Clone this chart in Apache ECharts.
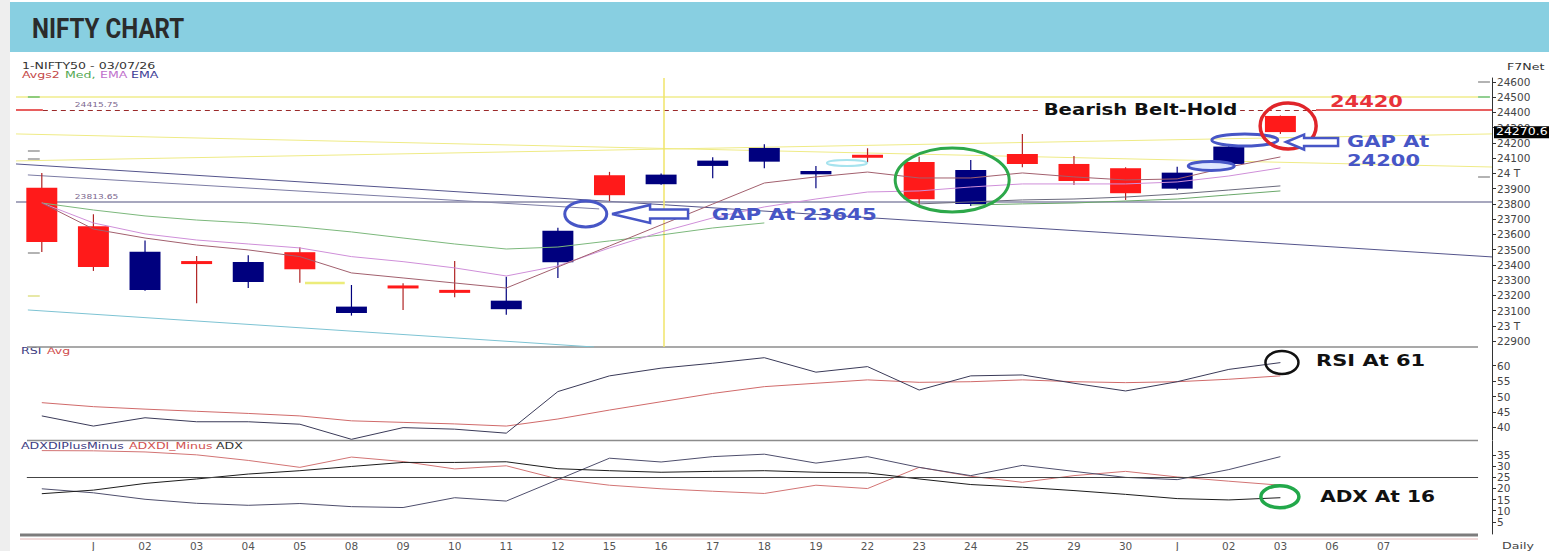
<!DOCTYPE html>
<html><head><meta charset="utf-8">
<script src="https://cdn.jsdelivr.net/npm/echarts@6/dist/echarts.min.js"></script>
<style>html,body{margin:0;padding:0;background:#fff}#c{width:1549px;height:551px}</style>
</head><body><div id="c"></div>
<script>
// ---------- data ----------
const dateLabels = ['', 'J','02','03','04','05','08','09','10','11','12','15','16','17','18','19','22','23','24','25','29','30','J','02','03','06','07'];
const candleOpen  = [23906,23653,23235,23420,23288,23483,23084,23264,23235,23109,23417,23988,23929,24049,24077,23994,24115,24075,23800,24128,24062,24034,23900,24062,24377];
const candleClose = [23550,23386,23486,23410,23419,23371,23126,23246,23217,23165,23624,23857,23992,24084,24167,24016,24110,23830,24023,24062,23950,23870,24005,24176,24271];
const candleLow   = [23485,23360,23230,23148,23248,23283,23067,23104,23187,23073,23314,23819,23925,23968,24034,23903,24073,23786,23786,24040,23924,23826,23891,24055,24259];
const candleHigh  = [24003,23732,23559,23458,23463,23515,23268,23279,23425,23322,23644,24010,24000,24106,24191,24049,24165,24110,24088,24259,24114,24040,24044,24191,24380];
const avgFast = [23806,23635,23576,23530,23498,23454,23347,23314,23281,23248,23386,23524,23662,23799,23937,23977,24009,23970,23970,24003,23977,23957,23964,24042,24108];
const avgEma  = [23806,23675,23603,23563,23537,23511,23454,23421,23380,23327,23393,23511,23616,23708,23780,23832,23878,23885,23911,23931,23931,23931,23944,23983,24036];
const medAvg  = [23806,23760,23721,23694,23675,23649,23616,23576,23537,23504,23517,23557,23596,23642,23675];
const medRightGray  = [23800,23813,23826,23832,23845,23865,23891,23918];   // idx 17..24
const medRightGreen = [23793,23800,23806,23819,23832,23859,23885];         // idx 18..24
const rsiLine = [43.7,40.4,43.1,41.8,41.8,41.0,36.1,39.9,39.4,38.1,51.6,56.7,59.2,60.8,62.6,57.9,59.7,52.1,56.7,57.0,54.3,51.8,54.8,58.8,61.0];
const rsiAvg  = [48.0,46.7,45.9,45.2,44.5,43.7,42.1,41.6,41.1,40.4,42.7,45.6,48.3,51.0,53.2,54.3,55.4,54.6,54.8,55.4,54.8,54.5,54.8,55.6,56.7];
const diPlus  = [19.8,18.0,15.1,13.3,12.4,13.2,11.8,11.4,15.8,14.3,23.9,33.5,31.8,34.2,35.3,31.3,34.2,29.4,25.7,30.3,27.6,24.9,23.9,28.4,34.2];
const diMinus = [36.9,36.8,36.3,35.0,32.5,29.4,34.0,32.0,28.7,30.1,24.2,21.4,19.8,18.7,17.7,21.4,19.9,29.4,25.4,22.7,25.7,27.6,25.1,23.2,21.4];
const adxLine = [17.6,19.2,22.2,24.2,26.4,27.9,29.8,31.6,31.6,31.9,28.8,27.9,27.2,27.6,27.9,27.2,26.9,24.2,21.7,20.5,19.0,17.3,15.4,14.8,15.8];
const trendNavy1 = [[-0.5,24062],[28.1,23452]];
const trendNavy2 = [[-0.27,23990],[10.8,23767]];
const trendYellowA = [[-0.5,24259],[28.1,24042]];
const trendYellowB = [[-0.5,24082],[28.1,24259]];
const trendCyan = [[-0.27,23104],[10.7,22861]];
const shortYellow = [[5.1,23281],[5.87,23281]];
const levelTop = 24500, levelRes = 24415.75, levelSup = 23813.65, lastClose = 24270.6;
const priceTicks = [22900,23000,23100,23200,23300,23400,23500,23600,23700,23800,23900,24000,24100,24200,24300,24400,24500,24600];
const rsiTicks = [40,45,50,55,60];
const adxTicks = [5,10,15,20,25,30,35];
const xTickIdx = [1,2,3,4,5,6,7,8,9,10,11,12,13,14,15,16,17,18,19,20,21,22,23,24,25,26];

// ---------- helpers ----------
const X_MIN = -0.5, X_MAX = 28.1;
const FONT = '"DejaVu Sans", Verdana, sans-serif';
const pairs = (arr, start) => arr.map((v, i) => [i + (start || 0), v]);
const BLUE = '#4756c6';

function candleItem(params, api) {
  const x = api.value(0), o = api.value(1), c = api.value(2), l = api.value(3), h = api.value(4);
  const po = api.coord([x, o]), pc = api.coord([x, c]), pl = api.coord([x, l]), ph = api.coord([x, h]);
  const w = api.size([1, 0])[0] * 0.6;
  const up = c >= o;
  const fill = up ? '#00007e' : '#ff1a1a';
  const wick = up ? '#00007e' : '#b02424';
  let top = Math.min(po[1], pc[1]), bot = Math.max(po[1], pc[1]);
  if (bot - top < 3) { const m = (top + bot) / 2; top = m - 1.5; bot = m + 1.5; }
  return { type: 'group', children: [
    { type: 'line', shape: { x1: po[0], y1: ph[1], x2: po[0], y2: pl[1] }, style: { stroke: wick, lineWidth: 1.2 } },
    { type: 'rect', shape: { x: po[0] - w / 2, y: top, width: w, height: bot - top }, style: { fill: fill } }
  ]};
}

function noteShape(n, p) {
  if (n.kind === 'ellipse') {
    return { type: 'ellipse', shape: { cx: p[0], cy: p[1], rx: n.rx, ry: n.ry }, style: { fill: n.fill || 'none', stroke: n.color, lineWidth: n.lw } };
  }
  if (n.kind === 'arrow') {
    const x0 = p[0], y0 = p[1], L = n.len, hl = n.head, hh = n.hh / 2, sh = n.sh / 2;
    return { type: 'polygon', shape: { points: [[x0, y0], [x0 + hl, y0 - hh], [x0 + hl, y0 - sh], [x0 + L, y0 - sh], [x0 + L, y0 + sh], [x0 + hl, y0 + sh], [x0 + hl, y0 + hh]] },
      style: { fill: '#fff', stroke: n.color, lineWidth: n.lw } };
  }
  if (n.kind === 'text') {
    const st = { text: n.text, fill: n.color, font: n.font, align: 'left', verticalAlign: 'middle' };
    if (n.bg) { st.backgroundColor = n.bg; st.padding = n.pad; }
    return { type: 'text', x: p[0] + (n.dx || 0), y: p[1] + (n.dy || 0), scaleX: n.sx || 1, style: st };
  }
  if (n.kind === 'box') {
    return { type: 'group', children: [
      { type: 'rect', shape: { x: p[0] + 2, y: p[1] - 6, width: 60, height: 12 }, style: { fill: '#000' } },
      { type: 'text', x: p[0] + 4, y: p[1], scaleX: 1.25, style: { text: n.text, fill: '#fff', font: '10px ' + FONT, align: 'left', verticalAlign: 'middle' } }
    ]};
  }
  return null;
}
function noteSeries(notes, gi) {
  return { type: 'custom', xAxisIndex: gi, yAxisIndex: gi, clip: false, silent: true, z: 20,
    data: notes.map(n => [n.x, n.y]),
    renderItem: (params, api) => { const n = notes[params.dataIndex]; return noteShape(n, api.coord([n.x, n.y])); } };
}
const BOLD = 'bold 15px ' + FONT;
const mainNotes = [
  { kind: 'ellipse', x: 15.6, y: 24069, rx: 20, ry: 3, color: '#a6e3ee', lw: 2 },
  { kind: 'ellipse', x: 17.64, y: 23957, rx: 57, ry: 32, color: '#2da84a', lw: 3 },
  { kind: 'ellipse', x: 10.54, y: 23734, rx: 21, ry: 13, color: BLUE, lw: 3 },
  { kind: 'arrow', x: 11.05, y: 23734, len: 76, head: 38, hh: 18, sh: 9, color: BLUE, lw: 2.5 },
  { kind: 'text', x: 12.98, y: 23727, text: 'GAP At 23645', color: BLUE, font: BOLD, sx: 1.42 },
  { kind: 'text', x: 19.42, y: levelRes, text: 'Bearish Belt-Hold', color: '#111', font: BOLD, sx: 1.31, bg: '#fff', pad: [0, 2, 0, 2], dx: -3 },
  { kind: 'text', x: 24.96, y: 24469, text: '24420', color: '#e8333a', font: BOLD, sx: 1.4 },
  { kind: 'ellipse', x: 22.66, y: 24049, rx: 23, ry: 4.5, color: BLUE, lw: 3, fill: '#dfe6ff' },
  { kind: 'ellipse', x: 23.31, y: 24219, rx: 33, ry: 6, color: BLUE, lw: 3 },
  { kind: 'ellipse', x: 24.15, y: 24311, rx: 28, ry: 23, color: '#e0252a', lw: 3.5 },
  { kind: 'arrow', x: 24.11, y: 24206, len: 52, head: 18, hh: 15, sh: 8, color: BLUE, lw: 2.5 },
  { kind: 'text', x: 25.29, y: 24206, text: 'GAP At', color: BLUE, font: BOLD, sx: 1.4 },
  { kind: 'text', x: 25.29, y: 24082, text: '24200', color: BLUE, font: BOLD, sx: 1.4 },
  { kind: 'text', x: 0.64, y: levelRes, dy: -6, text: '24415.75', color: '#7d6890', font: '7px ' + FONT, sx: 1.3 },
  { kind: 'text', x: 0.64, y: levelSup, dy: -5, text: '23813.65', color: '#7d6890', font: '7px ' + FONT, sx: 1.3 },
  { kind: 'box', x: X_MAX, y: lastClose, text: '24270.6' }
];
const rsiNotes = [
  { kind: 'ellipse', x: 24.03, y: 61.04, rx: 16.5, ry: 11.5, color: '#111', lw: 2.5 },
  { kind: 'text', x: 24.69, y: 61.5, text: 'RSI At 61', color: '#111', font: BOLD, sx: 1.4 }
];
const adxNotes = [
  { kind: 'ellipse', x: 23.99, y: 16.2, rx: 19, ry: 11, color: '#22a84a', lw: 3.5 },
  { kind: 'text', x: 24.77, y: 15.95, text: 'ADX At 16', color: '#111', font: BOLD, sx: 1.34 }
];

function lineS(data, color, gi, extra) {
  return Object.assign({ type: 'line', xAxisIndex: gi, yAxisIndex: gi, data: data, symbol: 'none', silent: true,
    lineStyle: { color: color, width: 1 }, z: 3 }, extra || {});
}
function ml(a, b, color, width, type) {
  return [{ coord: a, lineStyle: { color: color, width: width, type: type || 'solid' } }, { coord: b }];
}

const grids = [
  { left: 16, right: 57, top: 78, height: 269 },
  { left: 16, right: 57, top: 347, height: 93 },
  { left: 16, right: 57, top: 441, height: 94 }
];
const xAxes = [0, 1, 2].map(gi => ({
  type: 'value', gridIndex: gi, min: X_MIN, max: X_MAX,
  axisLine: { show: false }, axisTick: { show: false }, splitLine: { show: false },
  axisLabel: gi === 2 ? { show: true, customValues: xTickIdx, formatter: v => dateLabels[Math.round(v)], color: '#555', fontSize: 10.5, fontFamily: FONT, margin: 6 } : { show: false }
}));
function yAx(gi, min, max, ticks, fmt) {
  return { type: 'value', gridIndex: gi, position: 'right', min: min, max: max, splitLine: { show: false },
    axisLine: { show: true, onZero: false, lineStyle: { color: '#333', width: 1 } },
    axisTick: { show: true, length: 4, customValues: ticks, lineStyle: { color: '#333' } },
    axisLabel: { customValues: ticks, formatter: fmt || (v => String(v)), color: '#444', fontSize: 10.5, fontFamily: FONT, margin: 5 } };
}
const yAxes = [
  yAx(0, 22861, 24626, priceTicks, v => v === 23000 ? '23 T' : v === 24000 ? '24 T' : String(v)),
  yAx(1, 35.88, 66.07, rsiTicks),
  yAx(2, -0.45, 41.2, adxTicks)
];

const candleData = candleOpen.map((o, i) => [i, o, candleClose[i], candleLow[i], candleHigh[i]]);
const mlBase = { silent: true, symbol: 'none', label: { show: false }, animation: false };

const series = [
  lineS(trendYellowA, '#efeb86', 0),
  lineS(trendYellowB, '#efeb86', 0),
  lineS(trendNavy1, '#55558c', 0),
  lineS(trendNavy2, '#7c7ca4', 0),
  lineS(trendCyan, '#7dc3d3', 0),
  lineS(shortYellow, '#ecec7a', 0, { lineStyle: { color: '#ecec7a', width: 2.5 },
    markLine: Object.assign({}, mlBase, { data: [
        ml([X_MIN, levelTop], [27.83, levelTop], '#f0ec8c', 1.5),
        ml([X_MIN, levelRes], [0.02, levelRes], '#e02a2a', 1.5),
        ml([0.02, levelRes], [24.69, levelRes], '#9a2a2a', 1.2, [5, 4]),
        ml([24.69, levelRes], [X_MAX, levelRes], '#e02a2a', 1.5),
        ml([X_MIN, levelSup], [X_MAX, levelSup], '#8a8aa8', 1.5),
        ml([-0.27, levelTop], [-0.04, levelTop], '#6cbf6c', 1.5),
        ml([-0.27, 24149], [-0.04, 24149], '#9a9a9a', 1.5),
        ml([-0.27, 24099], [-0.04, 24099], '#9a9a9a', 1.5),
        ml([-0.27, 23478], [-0.04, 23478], '#9a9a9a', 1.5),
        ml([-0.27, 23196], [-0.04, 23196], '#dfe08a', 1.5),
        ml([27.83, 24600], [28.06, 24600], '#9a9a9a', 1.5),
        ml([27.83, levelTop], [28.06, levelTop], '#6cbf6c', 1.5),
        ml([27.83, 23977], [28.06, 23977], '#9a9a9a', 1.5)
      ] }) }),
  { type: 'custom', xAxisIndex: 0, yAxisIndex: 0, data: candleData, renderItem: candleItem, silent: true, z: 5, clip: true },
  lineS(pairs(medAvg), '#7cb87c', 0, { z: 6 }),
  lineS(pairs(avgEma), '#cf8fd9', 0, { z: 6 }),
  lineS(pairs(avgFast), '#a2606e', 0, { z: 6 }),
  lineS(pairs(medRightGray, 17), '#6a6a7c', 0, { z: 6 }),
  lineS(pairs(medRightGreen, 18), '#6aa86a', 0, { z: 6,
    markLine: Object.assign({}, mlBase, { data: [ml([12.05, 24626], [12.05, 22861], '#f1e46a', 1.5)] }) }),
  noteSeries(mainNotes, 0),
  lineS(pairs(rsiAvg), '#d06a6a', 1),
  lineS(pairs(rsiLine), '#3a3a58', 1),
  noteSeries(rsiNotes, 1),
  lineS(pairs(diMinus), '#d27474', 2, {
    markLine: Object.assign({}, mlBase, { data: [ml([-0.29, 25], [27.83, 25], '#444', 1)] }) }),
  lineS(pairs(diPlus), '#4e4e6c', 2),
  lineS(pairs(adxLine), '#1c1c1c', 2),
  noteSeries(adxNotes, 2)
];

const T = (x, y, text, color, size, sx) => ({ type: 'text', x: x, y: y, scaleX: sx || 1, silent: true,
  style: { text: text, fill: color, font: size + 'px ' + FONT, align: 'left', verticalAlign: 'middle' } });
const L = (x1, y1, x2, y2, color, w) => ({ type: 'line', shape: { x1: x1, y1: y1, x2: x2, y2: y2 }, style: { stroke: color, lineWidth: w }, silent: true });

const graphic = [
  { type: 'rect', shape: { x: 0, y: 0, width: 10, height: 551 }, style: { fill: '#eeeeee' }, silent: true, z: -10 },
  { type: 'rect', shape: { x: 10, y: 2, width: 1539, height: 50 }, style: { fill: '#88cfe1' }, silent: true, z: -10 },
  { type: 'text', x: 32, y: 28, scaleX: 0.86, silent: true,
    style: { text: 'NIFTY CHART', fill: '#2b2b2b', font: 'bold 28px Roboto, "Noto Sans", sans-serif', align: 'left', verticalAlign: 'middle' } },
  T(22, 66, '1-NIFTY50 - 03/07/26', '#333', 9, 1.4),
  T(22, 75, 'Avgs2', '#c44848', 9, 1.4),
  T(65, 75, 'Med,', '#52a852', 9, 1.4),
  T(100, 75, 'EMA', '#c070cc', 9, 1.4),
  T(131, 75, 'EMA', '#3c3c96', 9, 1.4),
  T(1507, 67, 'F7Net', '#333', 9, 1.4),
  T(21, 351, 'RSI', '#3c3c82', 9, 1.4),
  T(47, 351, 'Avg', '#d05050', 9, 1.4),
  T(21, 446, 'ADXDIPlusMinus', '#3c3c82', 9, 1.4),
  T(129, 446, 'ADXDI_Minus', '#d05050', 9, 1.4),
  T(216, 446, 'ADX', '#333', 9, 1.4),
  T(1502, 546, 'Daily', '#444', 9, 1.4),
  L(27, 347, 1478, 347, '#8c8c8c', 1.5),
  L(27, 440.5, 1478, 440.5, '#8c8c8c', 1.5),
  L(20, 535, 1478, 535, '#7c7c7c', 3),
  L(20, 539, 1478, 539, '#e6b8b8', 1)
];

const chart = echarts.init(document.getElementById('c'), null, { renderer: 'svg', width: 1549, height: 551 });
chart.setOption({
  animation: false,
  backgroundColor: '#ffffff',
  grid: grids,
  xAxis: xAxes,
  yAxis: yAxes,
  series: series,
  graphic: graphic
});
</script>
</body></html>
